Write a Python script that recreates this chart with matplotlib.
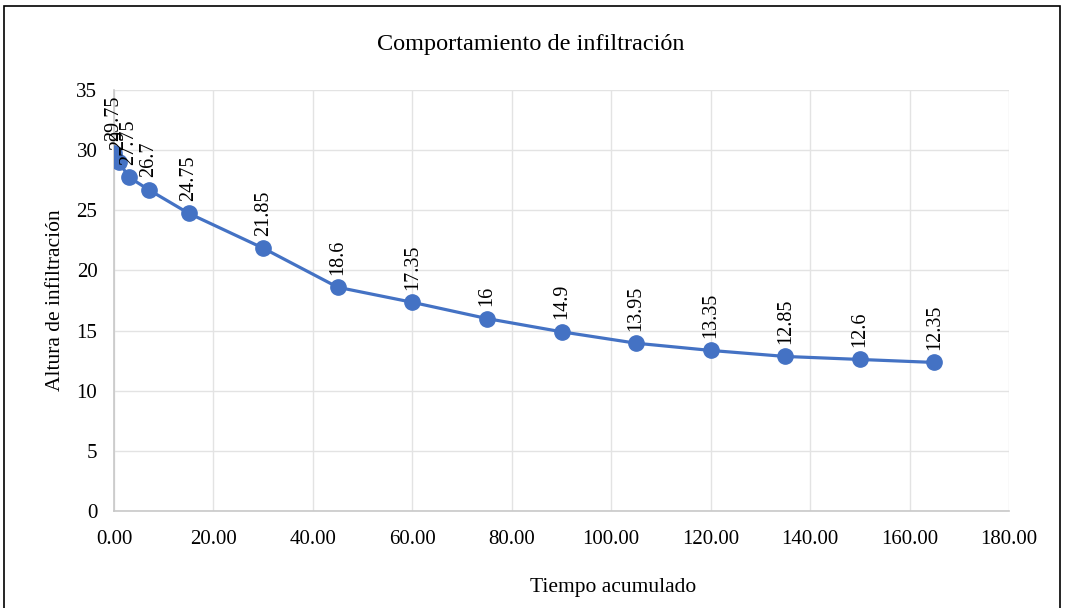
import matplotlib.pyplot as plt
from matplotlib.patches import Rectangle

plt.rcParams['font.family'] = ['Liberation Serif', 'DejaVu Serif']

tiempo = [0, 1, 3, 7, 15, 30, 45, 60, 75, 90, 105, 120, 135, 150, 165]
altura = [29.75, 29, 27.75, 26.7, 24.75, 21.85, 18.6, 17.35, 16, 14.9, 13.95, 13.35, 12.85, 12.6, 12.35]
etiquetas = ["29.75", "29", "27.75", "26.7", "24.75", "21.85", "18.6", "17.35", "16", "14.9",
             "13.95", "13.35", "12.85", "12.6", "12.35"]

fig = plt.figure(figsize=(10.66, 6.08), dpi=100)
ax = fig.add_axes([0.107, 0.1595, 0.8395, 0.6925])

color = '#4472C4'
ax.plot(tiempo, altura, color=color, lw=2.3, marker='o', ms=11, zorder=3)

for x, y, t in zip(tiempo, altura, etiquetas):
    ax.annotate(t, (x, y), xytext=(0, 9), textcoords='offset points',
                rotation=90, ha='center', va='bottom', fontsize=14.5, zorder=4)

ax.set_xlim(0, 180)
ax.set_ylim(0, 35)
ax.set_xticks(range(0, 181, 20))
ax.set_xticklabels([f"{v:.2f}" for v in range(0, 181, 20)])
ax.set_yticks(range(0, 36, 5))
ax.tick_params(labelsize=15, length=0)
ax.tick_params(axis='x', pad=14)
ax.tick_params(axis='y', pad=12)
ax.grid(True, color='#e3e3e3', lw=1)
ax.set_axisbelow(True)
for s in ['top', 'right']:
    ax.spines[s].set_visible(False)
for s in ['left', 'bottom']:
    ax.spines[s].set_color('#c8c8c8')
    ax.spines[s].set_linewidth(1.2)

fig.text(0.498, 0.927, 'Comportamiento de infiltración', fontsize=17.5, ha='center', va='center')
fig.text(0.575, 0.033, 'Tiempo acumulado', fontsize=15.5, ha='center', va='center')
fig.text(0.052, 0.507, 'Altura de infiltración', fontsize=15.5, ha='center', va='center',
         rotation=90)

fig.patches.append(Rectangle((0.004, -0.01), 0.99, 1.0, transform=fig.transFigure,
                             fill=False, edgecolor='black', lw=1.2))

fig.savefig('out.png', dpi=100)
